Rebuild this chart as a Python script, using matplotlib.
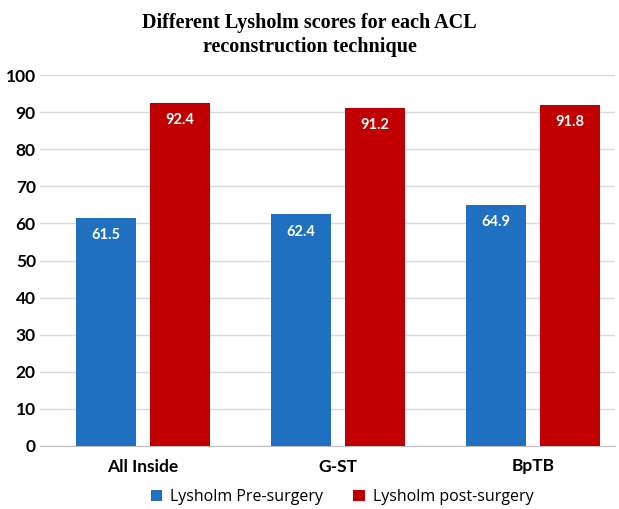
import numpy as np
import matplotlib.pyplot as plt

categories = ['All Inside', 'G-ST', 'BpTB']
pre_surgery = [61.5, 62.4, 64.9]
post_surgery = [92.4, 91.2, 91.8]
series_names = ['Lysholm Pre-surgery', 'Lysholm post-surgery']

blue = '#1F70C1'
red = '#C00000'

fig = plt.figure(figsize=(6.19, 5.09), dpi=100)
ax = fig.add_axes([40/619, 1-446/509, 575/619, (446-75)/509])

x = np.arange(len(categories))
w = 0.31
off = 0.19
b1 = ax.bar(x - off, pre_surgery, w, color=blue, label=series_names[0], zorder=3)
b2 = ax.bar(x + off, post_surgery, w, color=red, label=series_names[1], zorder=3)

for bars, vals in ((b1, pre_surgery), (b2, post_surgery)):
    for b, v in zip(bars, vals):
        ax.text(b.get_x() + b.get_width()/2, v - 4.6, f'{v:.1f}', ha='center', va='center',
                color='white', fontsize=10.5, fontweight='bold', family='Lato', zorder=4)

ax.set_xlim((40-143)/195, (615-143)/195)
ax.set_ylim(0, 100)
ax.set_yticks(range(0, 101, 10))
ax.set_xticks(x)
ax.set_xticklabels(categories)
for lab in ax.get_xticklabels() + ax.get_yticklabels():
    lab.set_fontweight('bold')
    lab.set_fontsize(12.5)
    lab.set_family('Lato')
ax.tick_params(axis='both', length=0)
ax.tick_params(axis='y', pad=3)
ax.tick_params(axis='x', pad=9)
ax.grid(axis='y', color='#D9D9D9', linewidth=1, zorder=0)
for s in ['top', 'right', 'left']:
    ax.spines[s].set_visible(False)
ax.spines['bottom'].set_color('#BFBFBF')

fig.text(0.5, 1-35/509, 'Different Lysholm scores for each ACL\nreconstruction technique',
         ha='center', va='center', fontsize=14.5, fontweight='bold', family='Liberation Serif',
         linespacing=1.25)

fig.legend(loc='center', bbox_to_anchor=(342/619, 1-497/509), ncol=2, frameon=False,
           prop={'family': 'Open Sans', 'size': 11.5}, handlelength=0.7, handleheight=0.7,
           columnspacing=1.9, handletextpad=0.5)

fig.savefig('out.png', dpi=100)
